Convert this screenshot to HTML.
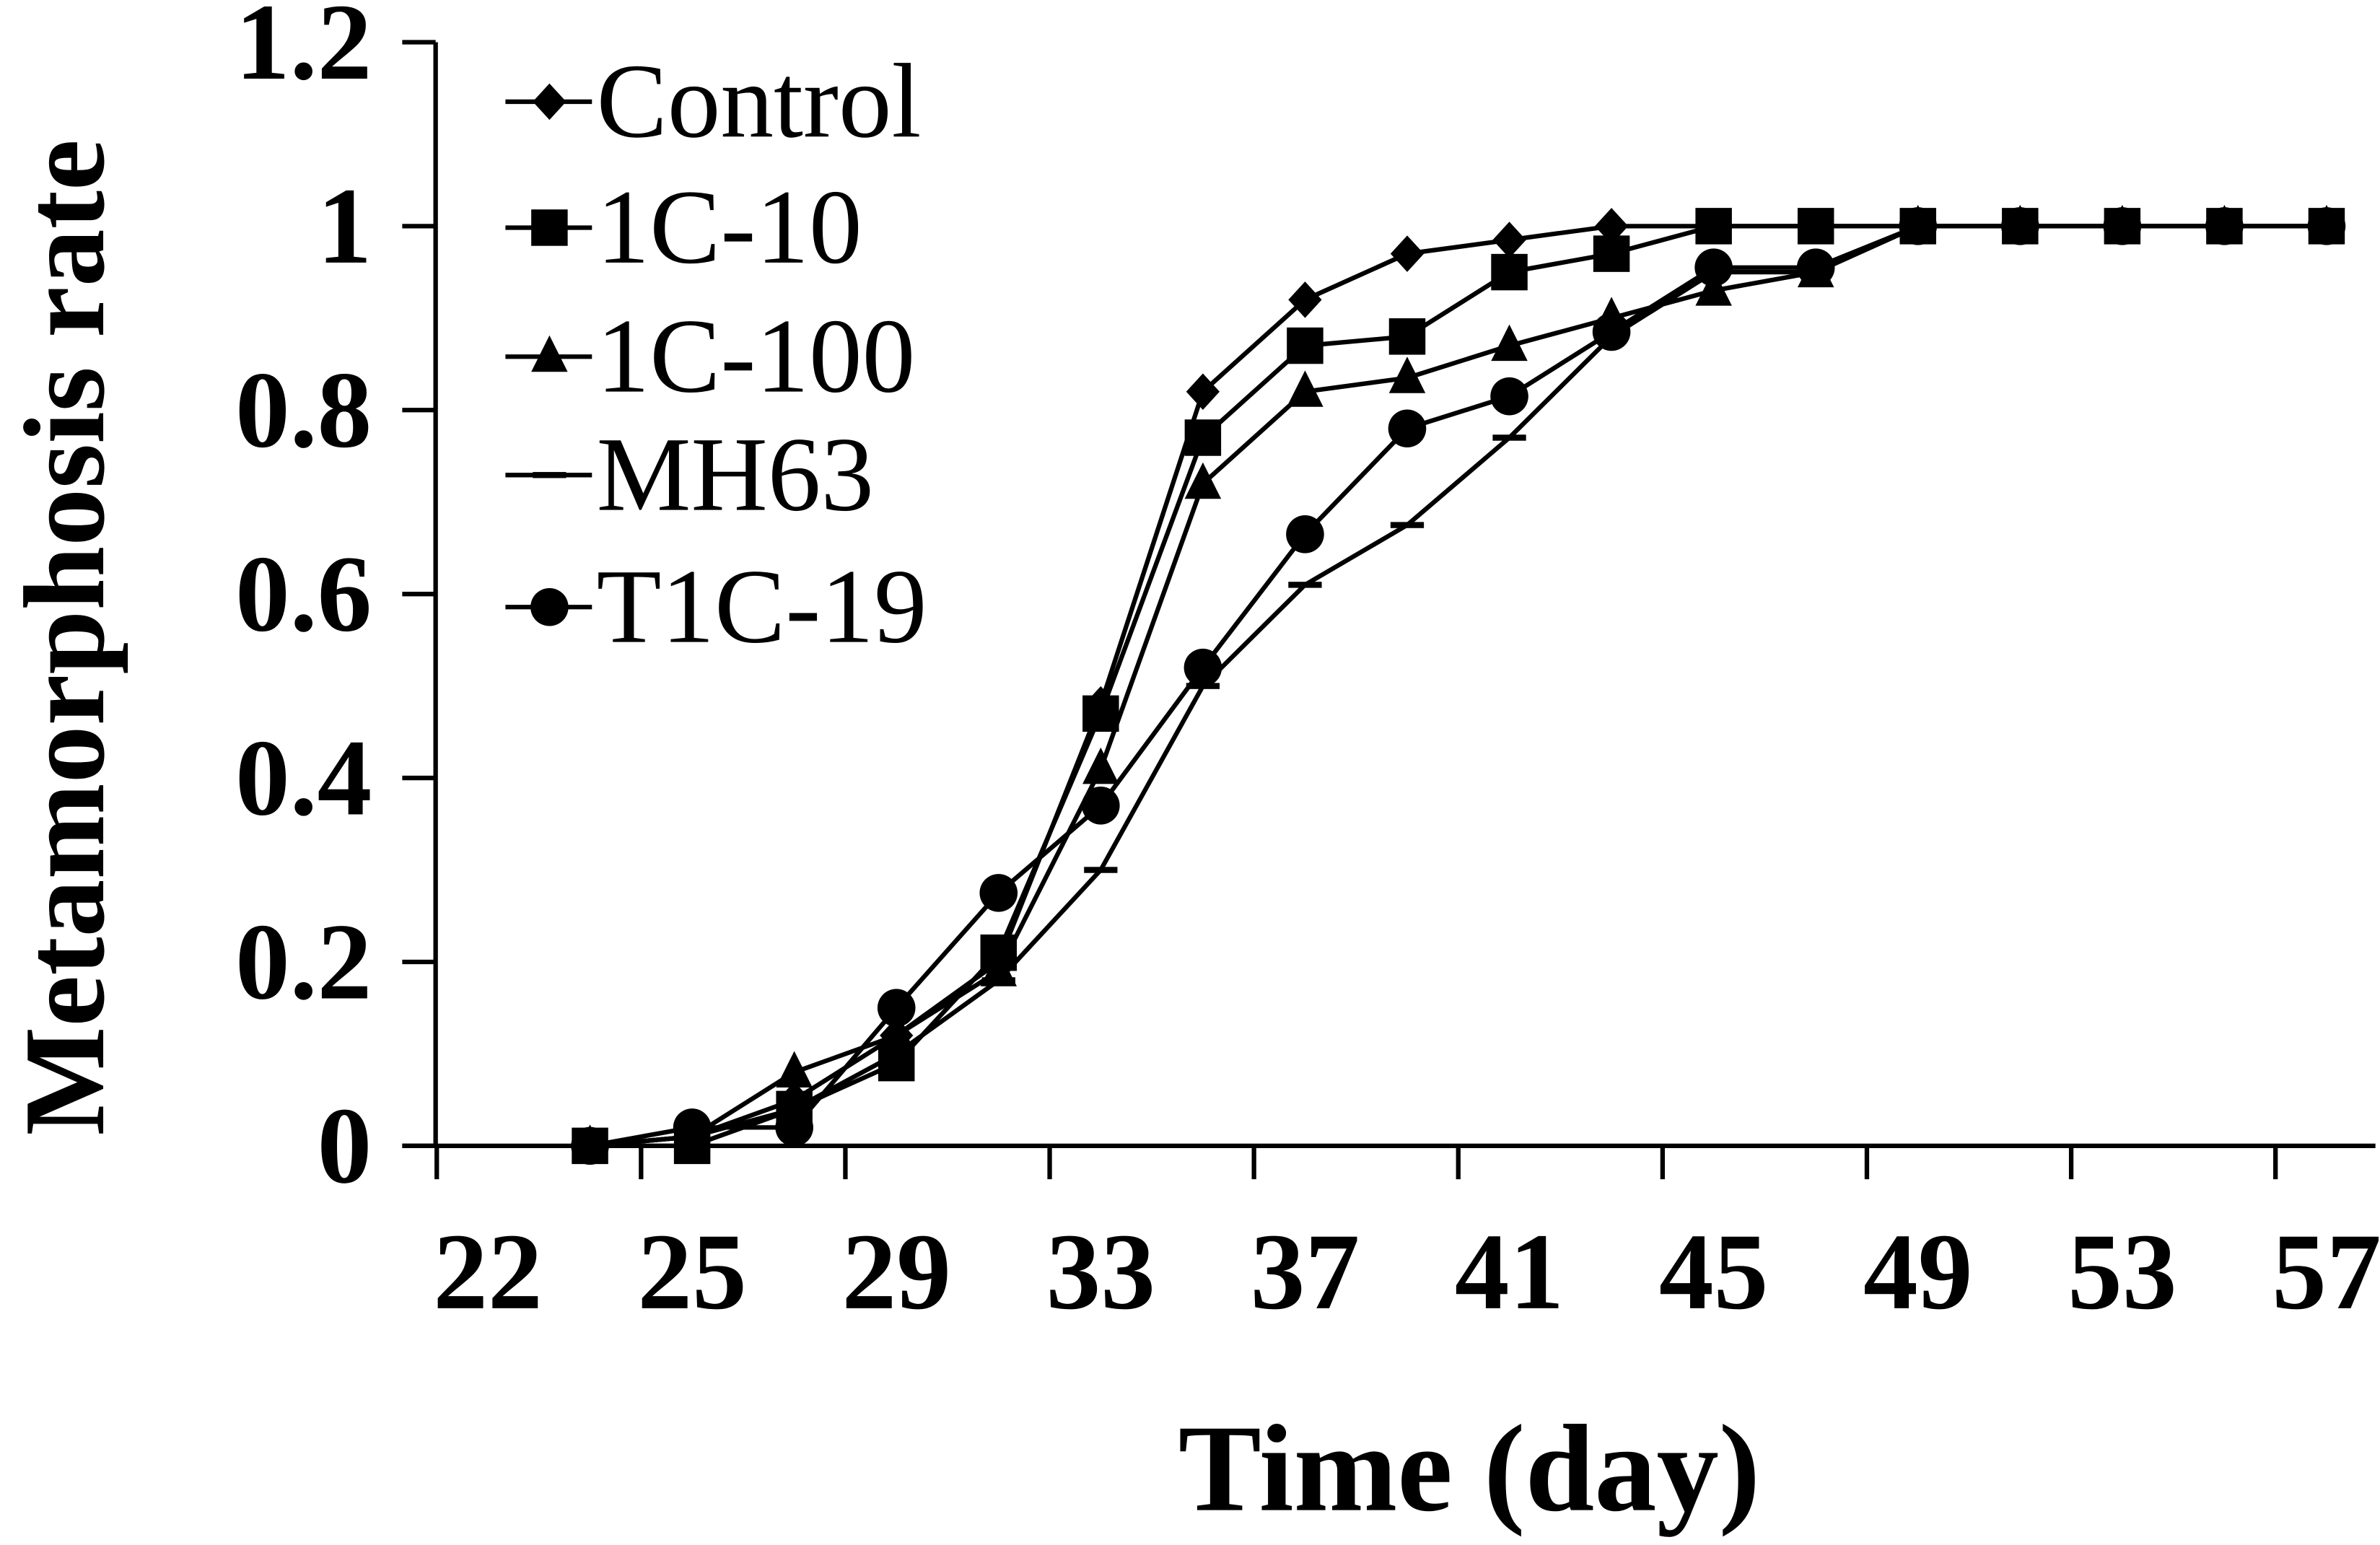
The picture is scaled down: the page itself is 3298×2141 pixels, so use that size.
<!DOCTYPE html>
<html><head><meta charset="utf-8"><style>
html,body{margin:0;padding:0;background:#fff;}
svg{display:block;}
text{font-family:"Liberation Serif",serif;font-weight:bold;fill:#000;}
</style></head><body>
<svg id="chart" width="3298" height="2141" viewBox="0 0 1568 1018" preserveAspectRatio="none" xmlns="http://www.w3.org/2000/svg">
<g id="axes"></g>
<g id="series"></g>
<g id="legend"></g>
<text x="0" y="0" font-size="76" text-anchor="middle" transform="translate(68,420) rotate(-90)">Metamorphosis rate</text>
<text x="968" y="995" font-size="82" text-anchor="middle">Time (day)</text>
</svg>
<script>
const days = [23,25,27,29,31,33,35,37,39,41,43,45,47,49,51,53,55,57];
const seriesNames = ["Control","1C-100","MH63","T1C-19","1C-10"];
const control = [0,0.01,0.05,0.12,0.2,0.48,0.82,0.92,0.97,0.985,1,1,1,1,1,1,1,1];
const c100 = [0,0.01,0.08,0.12,0.19,0.41,0.72,0.82,0.835,0.87,0.9,0.93,0.95,1,1,1,1,1];
const mh63 = [0,0.01,0.04,0.1,0.18,0.3,0.5,0.61,0.675,0.77,0.88,0.95,0.95,1,1,1,1,1];
const t1c19 = [0,0.02,0.02,0.15,0.275,0.37,0.52,0.665,0.78,0.815,0.885,0.955,0.955,1,1,1,1,1];
const c10 = [0,0,0.04,0.09,0.21,0.47,0.77,0.87,0.88,0.95,0.97,1,1,1,1,1,1,1];
const yTicks = [0,0.2,0.4,0.6,0.8,1,1.2];
const yTickLabels = ["0","0.2","0.4","0.6","0.8","1","1.2"];
const xTickDays = [20,24,28,32,36,40,44,48,52,56];
const xLabelDays = [21,25,29,33,37,41,45,49,53,57];
const xTickLabels = ["22","25","29","33","37","41","45","49","53","57"];

const NS="http://www.w3.org/2000/svg";
const X = d => 456 + (d-25)*33.65;
const Y = v => 755 - v*606;
function mk(tag, attrs, parent){const e=document.createElementNS(NS,tag);for(const k in attrs)e.setAttribute(k,attrs[k]);parent.appendChild(e);return e;}
const axes=document.getElementById('axes');
let e;
e=mk('line',{x1:287,y1:Y(1.2),x2:287,y2:Y(0),stroke:'#000','stroke-width':3},axes);


e=mk('line',{x1:265,y1:Y(0),x2:1565,y2:Y(0),stroke:'#000','stroke-width':3},axes);


yTicks.forEach((v,i)=>{
  const t=mk('line',{x1:265,y1:Y(v),x2:287,y2:Y(v),stroke:'#000','stroke-width':3},axes);
  
  
  const l=mk('text',{x:245,y:Y(v)+24,'font-size':72,'text-anchor':'end'},axes);
  l.textContent=yTickLabels[i];
  
  
});
xTickDays.forEach((d,i)=>{
  const t=mk('line',{x1:X(d),y1:Y(0),x2:X(d),y2:Y(0)+22,stroke:'#000','stroke-width':3},axes);
  
  
  const l=mk('text',{x:X(xLabelDays[i]),y:862,'font-size':72,'text-anchor':'middle'},axes);
  l.textContent=xTickLabels[i];
  
  
});
function marker(kind,x,y,g){
  let m;
  if(kind==='diamond') m=mk('polygon',{points:`${x},${y-12} ${x+11},${y} ${x},${y+12} ${x-11},${y}`,fill:'#000'},g);
  else if(kind==='square') m=mk('rect',{x:x-12,y:y-12,width:24,height:24,fill:'#000'},g);
  else if(kind==='triangle') m=mk('polygon',{points:`${x},${y-14} ${x+12},${y+10} ${x-12},${y+10}`,fill:'#000'},g);
  else if(kind==='circle') m=mk('circle',{cx:x,cy:y,r:12.5,fill:'#000'},g);
  else m=mk('rect',{x:x-11,y:y-2,width:22,height:4,fill:'#000'},g);
  return m;
}
const sdata=[control,c100,mh63,t1c19,c10];
const kinds=['diamond','triangle','dash','circle','square'];
const sg=document.getElementById('series');
sdata.forEach((vals,si)=>{
  const g=mk('g',{},sg);
  
  
  const pts=vals.map((v,i)=>X(days[i])+','+Y(v)).join(' ');
  const pl=mk('polyline',{points:pts,fill:'none',stroke:'#000','stroke-width':3},g);
  
  
  vals.forEach((v,i)=>{
    const m=marker(kinds[si],X(days[i]),Y(v),g);
    
    
  });
});
const legendNames=["Control","1C-10","1C-100","MH63","T1C-19"];
const legendKinds=['diamond','square','triangle','dash','circle'];
const legendYs=[67,150,235,313,400];
const lg=document.getElementById('legend');
legendNames.forEach((n,i)=>{
  const g=mk('g',{},lg);
  
  
  const y=legendYs[i];
  mk('line',{x1:333,y1:y,x2:390,y2:y,stroke:'#000','stroke-width':3},g);
  marker(legendKinds[i],362,y,g);
  const t=mk('text',{x:393,y:y+23,'font-size':70,style:'font-weight:normal'},g);
  t.textContent=n;
});
</script>
</body></html>
